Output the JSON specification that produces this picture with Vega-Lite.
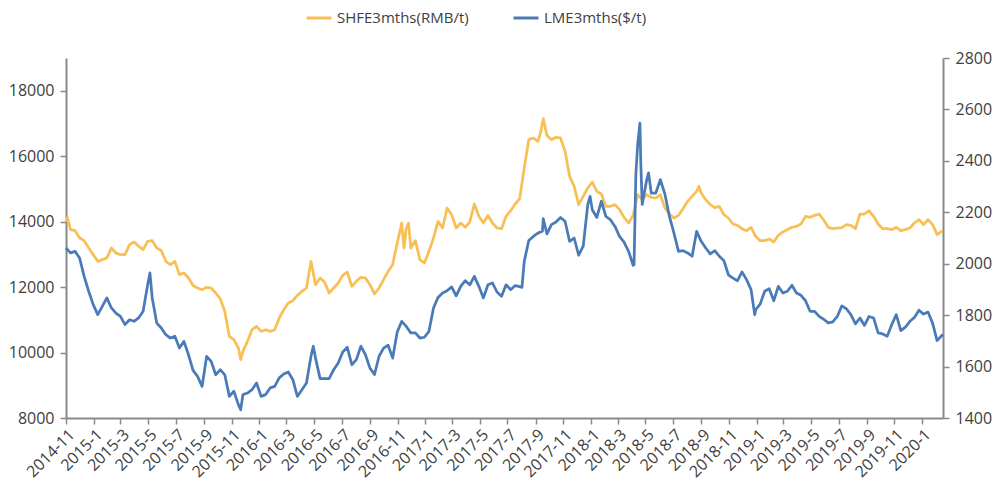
{
  "$schema": "https://vega.github.io/schema/vega-lite/v6.json",
  "width": 877,
  "height": 360,
  "autosize": "none",
  "padding": {"left": 66, "top": 58, "right": 54, "bottom": 67},
  "config": {
    "view": {"stroke": null},
    "font": "Open Sans",
    "axis": {"grid": false, "title": null, "domainColor": "#898989", "domainWidth": 2, "tickColor": "#898989", "tickWidth": 1.5, "tickSize": 6, "labelColor": "#404040", "labelFont": "Open Sans", "labelFontSize": 16}
  },
  "datasets": {
    "shfe": [
      {"date":"2014-11-01","v":14000},{"date":"2014-11-04","v":14120},{"date":"2014-11-11","v":13755},{"date":"2014-11-21","v":13724},
      {"date":"2014-12-01","v":13500},{"date":"2014-12-11","v":13419},{"date":"2014-12-21","v":13194},{"date":"2014-12-31","v":12991},
      {"date":"2015-01-10","v":12787},{"date":"2015-01-20","v":12838},{"date":"2015-01-30","v":12889},{"date":"2015-02-09","v":13194},
      {"date":"2015-02-19","v":13042},{"date":"2015-03-01","v":12991},{"date":"2015-03-11","v":12991},{"date":"2015-03-21","v":13296},
      {"date":"2015-03-31","v":13378},{"date":"2015-04-10","v":13245},{"date":"2015-04-20","v":13144},{"date":"2015-04-30","v":13398},
      {"date":"2015-05-10","v":13419},{"date":"2015-05-20","v":13194},{"date":"2015-05-30","v":13113},{"date":"2015-06-09","v":12787},
      {"date":"2015-06-19","v":12685},{"date":"2015-06-29","v":12787},{"date":"2015-07-09","v":12380},{"date":"2015-07-19","v":12431},
      {"date":"2015-07-29","v":12278},{"date":"2015-08-08","v":12050},{"date":"2015-08-18","v":11972},{"date":"2015-08-28","v":11921},
      {"date":"2015-09-07","v":11993},{"date":"2015-09-17","v":11972},{"date":"2015-09-27","v":11820},{"date":"2015-10-07","v":11646},
      {"date":"2015-10-17","v":11259},{"date":"2015-10-27","v":10495},{"date":"2015-11-06","v":10393},{"date":"2015-11-16","v":10139},
      {"date":"2015-11-21","v":9783},{"date":"2015-11-26","v":10037},{"date":"2015-12-06","v":10343},{"date":"2015-12-16","v":10699},
      {"date":"2015-12-26","v":10801},{"date":"2016-01-05","v":10648},{"date":"2016-01-15","v":10699},{"date":"2016-01-25","v":10648},
      {"date":"2016-02-04","v":10699},{"date":"2016-02-14","v":11056},{"date":"2016-02-24","v":11310},{"date":"2016-03-05","v":11514},
      {"date":"2016-03-15","v":11585},{"date":"2016-03-25","v":11748},{"date":"2016-04-04","v":11870},{"date":"2016-04-14","v":11972},
      {"date":"2016-04-24","v":12787},{"date":"2016-05-04","v":12074},{"date":"2016-05-14","v":12278},{"date":"2016-05-24","v":12150},
      {"date":"2016-06-03","v":11819},{"date":"2016-06-13","v":11972},{"date":"2016-06-23","v":12125},{"date":"2016-07-03","v":12359},
      {"date":"2016-07-13","v":12461},{"date":"2016-07-23","v":12023},{"date":"2016-08-02","v":12176},{"date":"2016-08-12","v":12298},
      {"date":"2016-08-22","v":12278},{"date":"2016-09-01","v":12074},{"date":"2016-09-11","v":11789},{"date":"2016-09-21","v":11972},
      {"date":"2016-10-01","v":12227},{"date":"2016-10-11","v":12482},{"date":"2016-10-21","v":12685},{"date":"2016-10-31","v":13348},
      {"date":"2016-11-10","v":13958},{"date":"2016-11-15","v":13194},{"date":"2016-11-20","v":13806},{"date":"2016-11-25","v":13958},
      {"date":"2016-11-30","v":13194},{"date":"2016-12-10","v":13419},{"date":"2016-12-20","v":12838},{"date":"2016-12-30","v":12736},
      {"date":"2017-01-09","v":13093},{"date":"2017-01-19","v":13500},{"date":"2017-01-29","v":14009},{"date":"2017-02-08","v":13806},
      {"date":"2017-02-18","v":14417},{"date":"2017-02-28","v":14213},{"date":"2017-03-10","v":13806},{"date":"2017-03-20","v":13958},
      {"date":"2017-03-30","v":13826},{"date":"2017-04-09","v":13989},{"date":"2017-04-19","v":14539},{"date":"2017-04-29","v":14162},
      {"date":"2017-05-09","v":13958},{"date":"2017-05-19","v":14192},{"date":"2017-05-29","v":13958},{"date":"2017-06-08","v":13806},
      {"date":"2017-06-18","v":13785},{"date":"2017-06-28","v":14162},{"date":"2017-07-08","v":14335},{"date":"2017-07-18","v":14539},
      {"date":"2017-07-28","v":14702},{"date":"2017-08-07","v":15639},{"date":"2017-08-17","v":16505},{"date":"2017-08-27","v":16556},
      {"date":"2017-09-06","v":16454},{"date":"2017-09-11","v":16657},{"date":"2017-09-18","v":17146},{"date":"2017-09-26","v":16637},
      {"date":"2017-10-06","v":16505},{"date":"2017-10-16","v":16576},{"date":"2017-10-26","v":16556},{"date":"2017-11-05","v":16148},
      {"date":"2017-11-15","v":15384},{"date":"2017-11-25","v":15079},{"date":"2017-12-05","v":14519},{"date":"2017-12-15","v":14770},
      {"date":"2017-12-25","v":15028},{"date":"2018-01-04","v":15211},{"date":"2018-01-14","v":14926},{"date":"2018-01-24","v":14844},
      {"date":"2018-02-03","v":14468},{"date":"2018-02-13","v":14468},{"date":"2018-02-23","v":14519},{"date":"2018-03-05","v":14366},
      {"date":"2018-03-15","v":14131},{"date":"2018-03-25","v":13958},{"date":"2018-04-04","v":14192},{"date":"2018-04-14","v":14824},
      {"date":"2018-04-24","v":14671},{"date":"2018-05-04","v":14824},{"date":"2018-05-14","v":14743},{"date":"2018-05-24","v":14722},
      {"date":"2018-06-03","v":14824},{"date":"2018-06-13","v":14417},{"date":"2018-06-23","v":14233},{"date":"2018-07-03","v":14111},
      {"date":"2018-07-13","v":14192},{"date":"2018-07-23","v":14396},{"date":"2018-08-02","v":14620},{"date":"2018-08-12","v":14773},
      {"date":"2018-08-22","v":14926},{"date":"2018-08-27","v":15079},{"date":"2018-09-01","v":14875},{"date":"2018-09-11","v":14671},
      {"date":"2018-09-21","v":14519},{"date":"2018-10-01","v":14427},{"date":"2018-10-11","v":14468},{"date":"2018-10-21","v":14213},
      {"date":"2018-10-31","v":14111},{"date":"2018-11-10","v":13928},{"date":"2018-11-20","v":13887},{"date":"2018-11-30","v":13785},
      {"date":"2018-12-10","v":13724},{"date":"2018-12-20","v":13826},{"date":"2018-12-30","v":13551},{"date":"2019-01-09","v":13419},
      {"date":"2019-01-19","v":13419},{"date":"2019-01-29","v":13470},{"date":"2019-02-08","v":13378},{"date":"2019-02-18","v":13581},
      {"date":"2019-02-28","v":13683},{"date":"2019-03-10","v":13755},{"date":"2019-03-20","v":13826},{"date":"2019-03-30","v":13857},
      {"date":"2019-04-09","v":13928},{"date":"2019-04-19","v":14162},{"date":"2019-04-29","v":14131},{"date":"2019-05-09","v":14192},
      {"date":"2019-05-19","v":14233},{"date":"2019-05-29","v":14050},{"date":"2019-06-08","v":13826},{"date":"2019-06-18","v":13785},
      {"date":"2019-06-28","v":13800},{"date":"2019-07-08","v":13815},{"date":"2019-07-18","v":13907},{"date":"2019-07-28","v":13887},
      {"date":"2019-08-07","v":13785},{"date":"2019-08-17","v":14233},{"date":"2019-08-27","v":14233},{"date":"2019-09-06","v":14335},
      {"date":"2019-09-16","v":14162},{"date":"2019-09-26","v":13928},{"date":"2019-10-06","v":13785},{"date":"2019-10-16","v":13785},
      {"date":"2019-10-26","v":13755},{"date":"2019-11-05","v":13826},{"date":"2019-11-15","v":13724},{"date":"2019-11-25","v":13755},
      {"date":"2019-12-05","v":13806},{"date":"2019-12-15","v":13958},{"date":"2019-12-25","v":14060},{"date":"2020-01-04","v":13907},
      {"date":"2020-01-14","v":14060},{"date":"2020-01-24","v":13907},{"date":"2020-02-03","v":13602},{"date":"2020-02-13","v":13704},
      {"date":"2020-02-16","v":13704}
    ],
    "lme": [
      {"date":"2014-11-01","v":2061},{"date":"2014-11-11","v":2042},{"date":"2014-11-21","v":2048},{"date":"2014-12-01","v":2022},
      {"date":"2014-12-11","v":1951},{"date":"2014-12-21","v":1893},{"date":"2014-12-31","v":1841},{"date":"2015-01-10","v":1802},
      {"date":"2015-01-20","v":1834},{"date":"2015-01-30","v":1867},{"date":"2015-02-09","v":1828},{"date":"2015-02-19","v":1808},
      {"date":"2015-03-01","v":1795},{"date":"2015-03-11","v":1763},{"date":"2015-03-21","v":1782},{"date":"2015-03-31","v":1776},
      {"date":"2015-04-10","v":1789},{"date":"2015-04-20","v":1815},{"date":"2015-04-30","v":1918},{"date":"2015-05-05","v":1964},
      {"date":"2015-05-10","v":1867},{"date":"2015-05-20","v":1769},{"date":"2015-05-30","v":1750},{"date":"2015-06-09","v":1724},
      {"date":"2015-06-19","v":1711},{"date":"2015-06-29","v":1718},{"date":"2015-07-09","v":1672},{"date":"2015-07-19","v":1698},
      {"date":"2015-07-29","v":1646},{"date":"2015-08-08","v":1585},{"date":"2015-08-18","v":1562},{"date":"2015-08-28","v":1523},
      {"date":"2015-09-07","v":1640},{"date":"2015-09-17","v":1620},{"date":"2015-09-27","v":1568},{"date":"2015-10-07","v":1588},
      {"date":"2015-10-17","v":1568},{"date":"2015-10-27","v":1484},{"date":"2015-11-06","v":1504},{"date":"2015-11-16","v":1452},
      {"date":"2015-11-21","v":1432},{"date":"2015-11-26","v":1491},{"date":"2015-12-06","v":1497},{"date":"2015-12-16","v":1510},
      {"date":"2015-12-26","v":1536},{"date":"2016-01-05","v":1484},{"date":"2016-01-15","v":1491},{"date":"2016-01-25","v":1517},
      {"date":"2016-02-04","v":1523},{"date":"2016-02-14","v":1556},{"date":"2016-02-24","v":1571},{"date":"2016-03-05","v":1579},
      {"date":"2016-03-15","v":1549},{"date":"2016-03-25","v":1484},{"date":"2016-04-04","v":1510},{"date":"2016-04-14","v":1536},
      {"date":"2016-04-24","v":1640},{"date":"2016-04-29","v":1679},{"date":"2016-05-04","v":1633},{"date":"2016-05-14","v":1553},
      {"date":"2016-05-24","v":1553},{"date":"2016-06-03","v":1553},{"date":"2016-06-13","v":1588},{"date":"2016-06-23","v":1614},
      {"date":"2016-07-03","v":1657},{"date":"2016-07-13","v":1675},{"date":"2016-07-23","v":1607},{"date":"2016-08-02","v":1627},
      {"date":"2016-08-12","v":1679},{"date":"2016-08-22","v":1646},{"date":"2016-09-01","v":1594},{"date":"2016-09-11","v":1569},
      {"date":"2016-09-21","v":1640},{"date":"2016-10-01","v":1672},{"date":"2016-10-11","v":1683},{"date":"2016-10-21","v":1633},
      {"date":"2016-10-31","v":1734},{"date":"2016-11-10","v":1776},{"date":"2016-11-20","v":1756},{"date":"2016-11-30","v":1731},
      {"date":"2016-12-10","v":1731},{"date":"2016-12-20","v":1711},{"date":"2016-12-30","v":1714},{"date":"2017-01-09","v":1737},
      {"date":"2017-01-19","v":1828},{"date":"2017-01-29","v":1869},{"date":"2017-02-08","v":1886},{"date":"2017-02-18","v":1895},
      {"date":"2017-02-28","v":1910},{"date":"2017-03-10","v":1875},{"date":"2017-03-20","v":1912},{"date":"2017-03-30","v":1934},
      {"date":"2017-04-09","v":1918},{"date":"2017-04-19","v":1951},{"date":"2017-04-29","v":1912},{"date":"2017-05-09","v":1867},
      {"date":"2017-05-19","v":1918},{"date":"2017-05-29","v":1925},{"date":"2017-06-08","v":1890},{"date":"2017-06-18","v":1873},
      {"date":"2017-06-28","v":1918},{"date":"2017-07-08","v":1899},{"date":"2017-07-18","v":1915},{"date":"2017-07-28","v":1911},
      {"date":"2017-08-02","v":1908},{"date":"2017-08-07","v":2009},{"date":"2017-08-17","v":2090},{"date":"2017-08-27","v":2106},
      {"date":"2017-09-06","v":2119},{"date":"2017-09-16","v":2126},{"date":"2017-09-18","v":2175},{"date":"2017-09-26","v":2116},
      {"date":"2017-10-06","v":2152},{"date":"2017-10-16","v":2162},{"date":"2017-10-26","v":2180},{"date":"2017-11-05","v":2165},
      {"date":"2017-11-15","v":2087},{"date":"2017-11-25","v":2100},{"date":"2017-12-05","v":2033},{"date":"2017-12-15","v":2068},
      {"date":"2017-12-25","v":2230},{"date":"2017-12-30","v":2262},{"date":"2018-01-04","v":2210},{"date":"2018-01-14","v":2180},
      {"date":"2018-01-24","v":2243},{"date":"2018-02-03","v":2184},{"date":"2018-02-13","v":2171},{"date":"2018-02-23","v":2145},
      {"date":"2018-03-05","v":2106},{"date":"2018-03-15","v":2084},{"date":"2018-03-25","v":2048},{"date":"2018-04-04","v":1994},
      {"date":"2018-04-06","v":1996},{"date":"2018-04-10","v":2346},{"date":"2018-04-14","v":2463},{"date":"2018-04-19","v":2547},
      {"date":"2018-04-21","v":2385},{"date":"2018-04-24","v":2230},{"date":"2018-05-04","v":2327},{"date":"2018-05-08","v":2353},
      {"date":"2018-05-14","v":2275},{"date":"2018-05-24","v":2275},{"date":"2018-06-03","v":2327},{"date":"2018-06-13","v":2271},
      {"date":"2018-06-23","v":2184},{"date":"2018-07-03","v":2119},{"date":"2018-07-13","v":2048},{"date":"2018-07-23","v":2051},
      {"date":"2018-08-02","v":2042},{"date":"2018-08-12","v":2029},{"date":"2018-08-22","v":2126},{"date":"2018-09-01","v":2087},
      {"date":"2018-09-11","v":2061},{"date":"2018-09-21","v":2038},{"date":"2018-10-01","v":2051},{"date":"2018-10-11","v":2029},
      {"date":"2018-10-21","v":2012},{"date":"2018-10-31","v":1957},{"date":"2018-11-10","v":1944},{"date":"2018-11-20","v":1934},
      {"date":"2018-11-30","v":1968},{"date":"2018-12-10","v":1938},{"date":"2018-12-20","v":1899},{"date":"2018-12-28","v":1802},
      {"date":"2018-12-30","v":1821},{"date":"2019-01-09","v":1843},{"date":"2019-01-19","v":1893},{"date":"2019-01-29","v":1903},
      {"date":"2019-02-08","v":1856},{"date":"2019-02-18","v":1912},{"date":"2019-02-28","v":1886},{"date":"2019-03-10","v":1893},
      {"date":"2019-03-20","v":1916},{"date":"2019-03-30","v":1886},{"date":"2019-04-09","v":1877},{"date":"2019-04-19","v":1856},
      {"date":"2019-04-29","v":1815},{"date":"2019-05-09","v":1815},{"date":"2019-05-19","v":1795},{"date":"2019-05-29","v":1784},
      {"date":"2019-06-08","v":1770},{"date":"2019-06-18","v":1774},{"date":"2019-06-28","v":1795},{"date":"2019-07-08","v":1836},
      {"date":"2019-07-18","v":1825},{"date":"2019-07-28","v":1802},{"date":"2019-08-07","v":1766},{"date":"2019-08-17","v":1789},
      {"date":"2019-08-27","v":1760},{"date":"2019-09-06","v":1795},{"date":"2019-09-16","v":1789},{"date":"2019-09-26","v":1731},
      {"date":"2019-10-06","v":1727},{"date":"2019-10-16","v":1718},{"date":"2019-10-26","v":1763},{"date":"2019-11-05","v":1802},
      {"date":"2019-11-15","v":1740},{"date":"2019-11-25","v":1753},{"date":"2019-12-05","v":1776},{"date":"2019-12-15","v":1791},
      {"date":"2019-12-25","v":1819},{"date":"2020-01-04","v":1804},{"date":"2020-01-14","v":1812},{"date":"2020-01-24","v":1769},
      {"date":"2020-02-03","v":1701},{"date":"2020-02-13","v":1720},{"date":"2020-02-16","v":1724}
    ]
  },
  "encoding": {
    "x": {
      "field": "date", "type": "temporal",
      "scale": {"type": "utc", "domain": [{"year":2014,"month":11,"date":1,"utc":true},{"year":2020,"month":2,"date":16,"utc":true}]},
      "axis": {
        "format": "%Y-%-m", "labelAngle": -45, "labelOverlap": false, "labelFlush": false, "labelBound": false, "labelPadding": 2,
        "values": [
          {"year":2014,"month":11,"date":1,"utc":true},
          {"year":2015,"month":1,"date":1,"utc":true},{"year":2015,"month":3,"date":1,"utc":true},{"year":2015,"month":5,"date":1,"utc":true},
          {"year":2015,"month":7,"date":1,"utc":true},{"year":2015,"month":9,"date":1,"utc":true},{"year":2015,"month":11,"date":1,"utc":true},
          {"year":2016,"month":1,"date":1,"utc":true},{"year":2016,"month":3,"date":1,"utc":true},{"year":2016,"month":5,"date":1,"utc":true},
          {"year":2016,"month":7,"date":1,"utc":true},{"year":2016,"month":9,"date":1,"utc":true},{"year":2016,"month":11,"date":1,"utc":true},
          {"year":2017,"month":1,"date":1,"utc":true},{"year":2017,"month":3,"date":1,"utc":true},{"year":2017,"month":5,"date":1,"utc":true},
          {"year":2017,"month":7,"date":1,"utc":true},{"year":2017,"month":9,"date":1,"utc":true},{"year":2017,"month":11,"date":1,"utc":true},
          {"year":2018,"month":1,"date":1,"utc":true},{"year":2018,"month":3,"date":1,"utc":true},{"year":2018,"month":5,"date":1,"utc":true},
          {"year":2018,"month":7,"date":1,"utc":true},{"year":2018,"month":9,"date":1,"utc":true},{"year":2018,"month":11,"date":1,"utc":true},
          {"year":2019,"month":1,"date":1,"utc":true},{"year":2019,"month":3,"date":1,"utc":true},{"year":2019,"month":5,"date":1,"utc":true},
          {"year":2019,"month":7,"date":1,"utc":true},{"year":2019,"month":9,"date":1,"utc":true},{"year":2019,"month":11,"date":1,"utc":true},
          {"year":2020,"month":1,"date":1,"utc":true}
        ]
      }
    }
  },
  "layer": [
    {
      "data": {"name": "shfe"},
      "mark": {"type": "line", "strokeWidth": 2.75, "strokeJoin": "round"},
      "encoding": {
        "y": {"field": "v", "type": "quantitative", "scale": {"domain": [8000, 19000], "nice": false, "zero": false},
              "axis": {"orient": "left", "format": "d", "values": [8000, 10000, 12000, 14000, 16000, 18000], "labelPadding": 6}},
        "color": {"datum": "SHFE3mths(RMB/t)", "type": "nominal",
          "scale": {"domain": ["SHFE3mths(RMB/t)", "LME3mths($/t)"], "range": ["#F8BF55", "#4A7BB7"]},
          "legend": {"orient": "none", "legendX": 239, "legendY": -54, "direction": "horizontal", "title": null,
            "symbolType": "stroke", "symbolSize": 625, "symbolStrokeWidth": 3, "labelFontSize": 15, "labelFont": "Open Sans",
            "labelColor": "#404040", "columnPadding": 38, "labelOffset": 4}}
      }
    },
    {
      "data": {"name": "lme"},
      "mark": {"type": "line", "strokeWidth": 2.75, "strokeJoin": "round"},
      "encoding": {
        "y": {"field": "v", "type": "quantitative", "scale": {"domain": [1400, 2800], "nice": false, "zero": false},
              "axis": {"orient": "right", "format": "d", "values": [1400, 1600, 1800, 2000, 2200, 2400, 2600, 2800], "labelPadding": 6}},
        "color": {"datum": "LME3mths($/t)", "type": "nominal"}
      }
    }
  ],
  "resolve": {"scale": {"y": "independent"}}
}
